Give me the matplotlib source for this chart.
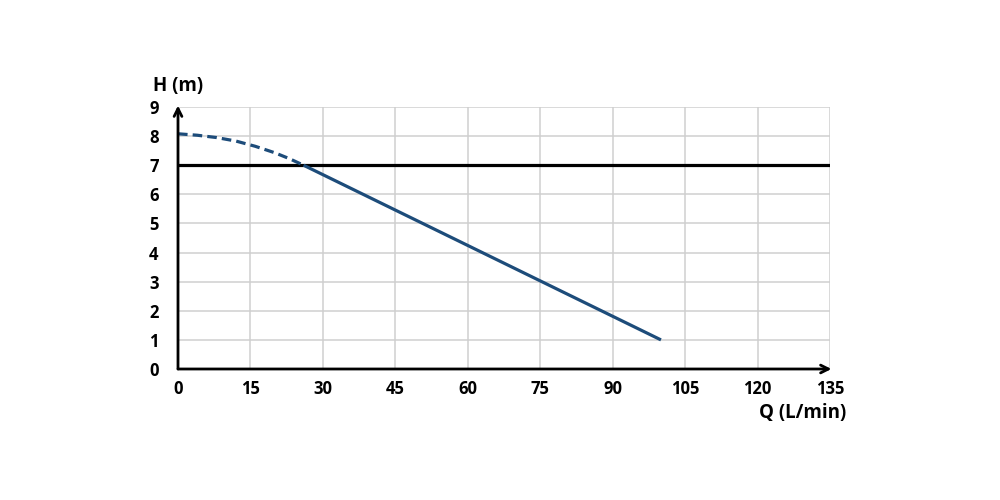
import matplotlib.pyplot as plt

# pump curve data
q_dashed = [0, 4, 8, 12, 16, 20, 23, 26]
h_dashed = [8.08, 8.03, 7.95, 7.83, 7.65, 7.43, 7.23, 7.0]
q_solid = [26, 100]
h_solid = [7.0, 1.0]
h_limit = 7

x_ticks = [0, 15, 30, 45, 60, 75, 90, 105, 120, 135]
y_ticks = [0, 1, 2, 3, 4, 5, 6, 7, 8, 9]

blue = '#1d4c7a'
plt.rcParams['font.family'] = ['Open Sans', 'DejaVu Sans']
plt.rcParams['font.weight'] = 'bold'

fig = plt.figure(figsize=(10, 5), dpi=100)
ax = fig.add_axes([0.178, 0.262, 0.652, 0.524])
ax.set_xlim(0, 135)
ax.set_ylim(0, 9)
ax.set_xticks(x_ticks)
ax.set_yticks(y_ticks)
ax.grid(True, color='#cfcfcf', lw=1.1)
ax.set_axisbelow(True)
for s in ax.spines.values():
    s.set_visible(False)
ax.tick_params(length=0, labelsize=12, pad=8)
for lab in ax.get_xticklabels() + ax.get_yticklabels():
    lab.set_fontweight('bold')
ax.tick_params(axis='y', pad=14)

# limit line
ax.plot([0, 135], [h_limit, h_limit], color='black', lw=2.3, zorder=3)

# curve
ax.plot(q_dashed, h_dashed, color=blue, lw=2.3, ls=(0, (3, 1.6)), zorder=4)
ax.plot(q_solid, h_solid, color=blue, lw=2.3, zorder=4, solid_capstyle='butt')

# axes with arrows
ax.annotate('', xy=(135.3, 0), xytext=(0, 0),
            arrowprops=dict(arrowstyle='->', lw=2, color='black', shrinkA=0, shrinkB=0,
                            mutation_scale=14), annotation_clip=False, zorder=5)
ax.annotate('', xy=(0, 9.05), xytext=(0, 0),
            arrowprops=dict(arrowstyle='->', lw=2, color='black', shrinkA=0, shrinkB=0,
                            mutation_scale=14), annotation_clip=False, zorder=5)

fig.text(0.153, 0.828, 'H (m)', fontsize=13.5, fontweight='bold', ha='left', va='center')
fig.text(0.846, 0.174, 'Q (L/min)', fontsize=13.5, fontweight='bold', ha='right', va='center')

fig.savefig('out.png', dpi=100)
